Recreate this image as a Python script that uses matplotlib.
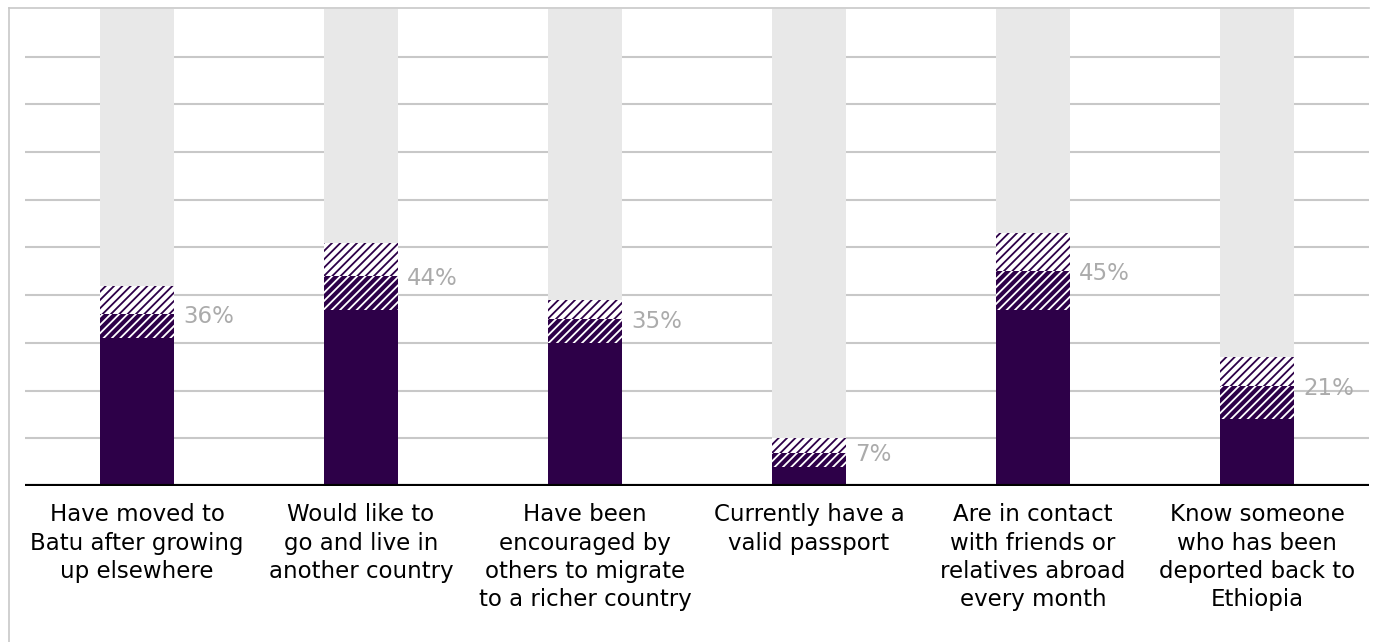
import matplotlib.pyplot as plt
import numpy as np
from matplotlib.lines import Line2D

# values (percent of respondents)
categories = [
    "Have moved to\nBatu after growing\nup elsewhere",
    "Would like to\ngo and live in\nanother country",
    "Have been\nencouraged by\nothers to migrate\nto a richer country",
    "Currently have a\nvalid passport",
    "Are in contact\nwith friends or\nrelatives abroad\nevery month",
    "Know someone\nwho has been\ndeported back to\nEthiopia",
]
solid = [31, 37, 30, 4, 37, 14]
dark_hatch = [5, 7, 5, 3, 8, 7]
light_hatch = [6, 7, 4, 3, 8, 6]
totals = [36, 44, 35, 7, 45, 21]

PURPLE = "#2d0048"
GREY = "#e8e8e8"

plt.rcParams['font.family'] = ['DejaVu Sans']
plt.rcParams['hatch.linewidth'] = 1.3

fig = plt.figure(figsize=(13.74, 6.42), dpi=100)
ax = fig.add_axes([25 / 1374, 1 - 486 / 642, (1369 - 25) / 1374, (486 - 9) / 642])

x = np.arange(len(categories))
width = 0.33
solid = np.array(solid)
dark_hatch = np.array(dark_hatch)
light_hatch = np.array(light_hatch)
top = solid + dark_hatch + light_hatch

# grey remainder up to 100%
ax.bar(x, 100 - top, width, bottom=top, color=GREY, linewidth=0, zorder=2)
ax.bar(x, solid, width, color=PURPLE, linewidth=0, zorder=2)
ax.bar(x, dark_hatch, width, bottom=solid, color=PURPLE, edgecolor="white",
       hatch="////", linewidth=0, zorder=2)
ax.bar(x, light_hatch, width, bottom=solid + dark_hatch, color="white",
       edgecolor=PURPLE, hatch="////", linewidth=0, zorder=2)

for xi, t in zip(x, totals):
    ax.text(xi + width / 2 + 0.04, t - 0.5, f"{t}%", color="#ababab", fontsize=16.5,
            ha="left", va="center")

for xi, lab in zip(x, categories):
    ax.text(xi, -3.6, lab, ha="center", va="top", fontsize=16.5,
            linespacing=1.3, color="black")

ax.set_xlim(-0.5, 5.5)
ax.set_ylim(0, 100)
for y in range(10, 100, 10):
    ax.axhline(y, color="#c8c8c8", linewidth=1.5, zorder=1)
ax.axhline(0, color="black", linewidth=3, zorder=3)
for s in ax.spines.values():
    s.set_visible(False)
ax.set_xticks([])
ax.set_yticks([])

# light frame around the top and left of the figure
fig.add_artist(Line2D([9 / 1374, 9 / 1374], [0, 1 - 8 / 642],
                      color="#c8c8c8", linewidth=1.2, transform=fig.transFigure))
fig.add_artist(Line2D([9 / 1374, 1369 / 1374], [1 - 8 / 642, 1 - 8 / 642],
                      color="#c8c8c8", linewidth=1.2, transform=fig.transFigure))

fig.savefig("out.png", dpi=100)
